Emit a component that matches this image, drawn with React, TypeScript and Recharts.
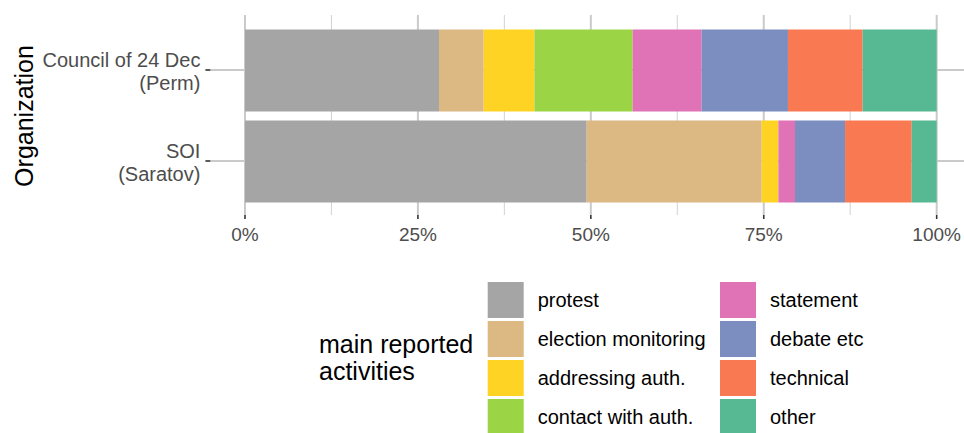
import React from "react";
import { BarChart, Bar, XAxis, YAxis, CartesianGrid, ReferenceLine } from "recharts";

const organizations = ["Council of 24 Dec\n(Perm)", "SOI\n(Saratov)"];

const activities = [
  "protest",
  "election monitoring",
  "addressing auth.",
  "contact with auth.",
  "statement",
  "debate etc",
  "technical",
  "other",
];

const colors = [
  "#a5a5a5",
  "#dcb883",
  "#ffd324",
  "#9bd545",
  "#df73b5",
  "#7b8ebf",
  "#f97a52",
  "#57b993",
];

// share of each activity (%) per organization, same order as organizations
const protest = [28.05, 49.4];
const electionMonitoring = [6.46, 25.3];
const addressingAuth = [7.33, 2.41];
const contactWithAuth = [14.2, 0];
const statement = [9.98, 2.41];
const debateEtc = [12.48, 7.23];
const technical = [10.8, 9.64];
const other = [10.7, 3.61];

const majorTicks = [0, 25, 50, 75, 100];
const minorTicks = [12.5, 37.5, 62.5, 87.5];

const series = [protest, electionMonitoring, addressingAuth, contactWithAuth, statement, debateEtc, technical, other];

const data = organizations.map((org, i) => {
  const row: Record<string, string | number> = { org };
  activities.forEach((a, k) => {
    row[a] = series[k][i];
  });
  return row;
});

const FONT = "'Liberation Sans', Arial, Helvetica, sans-serif";

function OrgTick(props: any) {
  const { x, y, payload } = props;
  const lines = String(payload.value).split("\n");
  return (
    <text x={x} y={y} textAnchor="end" fill="#4d4d4d" fontSize={20} fontFamily={FONT}>
      {lines.map((l, i) => (
        <tspan key={i} x={x} y={y - 3 + i * 23}>
          {l}
        </tspan>
      ))}
    </text>
  );
}

export default function App() {
  return (
    <div style={{ position: "absolute", left: 0, top: 0, width: 964, height: 433, overflow: "hidden", fontFamily: FONT }}>
      <BarChart
        width={964}
        height={433}
        data={data}
        layout="vertical"
        margin={{ top: 15, right: 0, bottom: 178, left: 10.4 }}
        barSize={82}
      >
        <CartesianGrid syncWithTicks stroke="#cacaca" strokeWidth={2} />
        <XAxis
          type="number"
          domain={[-5, 103.95]}
          allowDataOverflow
          ticks={majorTicks}
          interval={0}
          height={40}
          axisLine={false}
          tickLine={{ stroke: "#333333", strokeWidth: 1.6 }}
          tickSize={4}
          tickMargin={9}
          tickFormatter={(v) => `${v}%`}
          tick={{ fill: "#4d4d4d", fontSize: 19, fontFamily: FONT }}
        />
        <YAxis
          type="category"
          dataKey="org"
          width={200}
          padding={{ top: 9.5, bottom: 8.5 }}
          axisLine={false}
          tickLine={{ stroke: "#333333", strokeWidth: 1.6 }}
          tickSize={5}
          tickMargin={5}
          interval={0}
          tick={<OrgTick />}
        />
        {minorTicks.map((t) => (
          <ReferenceLine key={t} x={t} stroke="#d6d6d6" strokeWidth={1.1} zIndex={-50} />
        ))}
        {activities.map((a, k) => (
          <Bar key={a} dataKey={a} stackId="s" fill={colors[k]} isAnimationActive={false} />
        ))}
      </BarChart>
      <svg
        width={964}
        height={433}
        style={{ position: "absolute", left: 0, top: 0, pointerEvents: "none" }}
        fontFamily={FONT}
      >
        <text transform="translate(33,116) rotate(-90)" textAnchor="middle" fontSize={25} fill="#000">
          Organization
        </text>
        <text x={319} y={353} fontSize={25} fill="#000">
          main reported
        </text>
        <text x={319} y={380} fontSize={25} fill="#000">
          activities
        </text>
        {activities.map((a, k) => {
          const col = Math.floor(k / 4);
          const row = k % 4;
          const kx = 487.7 + col * 232.3;
          const ky = 282 + row * 39;
          return (
            <g key={a}>
              <rect x={kx} y={ky} width={36} height={36} fill={colors[k]} />
              <text x={kx + 50} y={ky + 25} fontSize={20} fill="#000">
                {a}
              </text>
            </g>
          );
        })}
      </svg>
    </div>
  );
}
